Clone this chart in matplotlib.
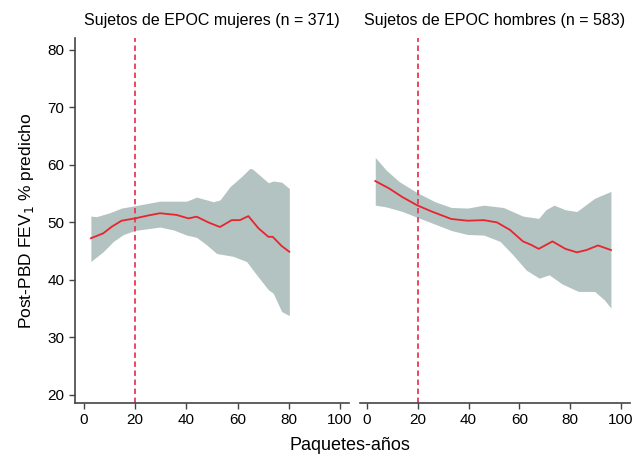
import matplotlib
matplotlib.use("Agg")
import matplotlib.pyplot as plt
import numpy as np

plt.rcParams['font.family'] = ['Liberation Sans', 'DejaVu Sans']

# Women panel
w_x_line = [2.7, 7.5, 11.0, 14.7, 19.9, 25.0, 29.7, 36.2, 40.8, 44.0, 48.6, 53.1, 57.7, 60.9, 64.2, 68.1, 72.0, 73.7, 77.2, 80.2]
w_y_line = [47.25, 48.1, 49.3, 50.3, 50.7, 51.2, 51.6, 51.3, 50.7, 51.0, 50.0, 49.2, 50.4, 50.4, 51.1, 49.0, 47.5, 47.5, 45.9, 44.9]
w_x_up = [2.7, 4.9, 10.2, 14.7, 19.9, 29.7, 40.1, 44.0, 50.5, 53.1, 57.0, 61.6, 64.8, 65.8, 72.0, 73.9, 77.2, 80.2]
w_y_up = [51.1, 51.0, 51.7, 52.5, 52.9, 53.7, 53.7, 54.4, 53.6, 53.9, 56.2, 58.0, 59.4, 59.3, 56.9, 57.2, 57.0, 55.9]
w_x_lo = [2.7, 7.5, 11.5, 15.4, 19.9, 29.7, 34.9, 40.1, 44.0, 47.9, 51.8, 55.7, 58.3, 63.5, 67.4, 72.0, 73.9, 77.2, 80.2]
w_y_lo = [43.2, 44.9, 46.7, 47.9, 48.6, 49.2, 48.7, 47.8, 47.4, 46.1, 44.6, 44.3, 44.1, 43.2, 40.9, 38.3, 37.7, 34.5, 33.8]

# Men panel
m_x_line = [3.3, 8.8, 14.0, 19.7, 25.5, 33.2, 39.6, 46.0, 51.2, 56.3, 61.4, 64.6, 67.6, 73.0, 78.1, 82.6, 86.4, 90.9, 96.0]
m_y_line = [57.2, 55.9, 54.4, 53.0, 51.9, 50.6, 50.3, 50.4, 50.0, 48.7, 46.7, 46.1, 45.4, 46.7, 45.4, 44.8, 45.2, 46.0, 45.2]
m_x_up = [3.3, 7.6, 12.7, 19.7, 26.8, 33.2, 39.6, 46.0, 53.7, 61.4, 67.6, 70.4, 73.6, 78.1, 82.6, 89.6, 96.0]
m_y_up = [61.3, 59.1, 57.1, 55.2, 53.6, 52.6, 52.5, 53.0, 52.6, 51.1, 50.7, 52.2, 53.0, 52.2, 51.9, 54.2, 55.4]
m_x_lo = [3.3, 7.6, 14.0, 19.7, 26.8, 33.2, 39.6, 46.0, 52.4, 57.6, 62.7, 67.8, 71.7, 76.8, 83.2, 89.6, 93.5, 96.0]
m_y_lo = [53.0, 52.7, 51.9, 50.9, 49.7, 48.6, 47.9, 47.8, 46.7, 44.3, 41.7, 40.3, 40.9, 39.3, 38.0, 38.0, 36.5, 35.1]

titles = ["Sujetos de EPOC mujeres (n = 371)", "Sujetos de EPOC hombres (n = 583)"]
x_ticks = [0, 20, 40, 60, 80, 100]
y_ticks = [20, 30, 40, 50, 60, 70, 80]
cutoff = 20

band_color = '#b3c3c1'
line_color = '#e8242e'
vline_color = '#e83a55'

fig = plt.figure(figsize=(6.37, 4.55), dpi=100)
axL = fig.add_axes([75/637, 1-403/455, (349-75)/637, (403-38.4)/455])
axR = fig.add_axes([360/637, 1-403/455, (630-360)/637, (403-38.4)/455])

panels = [
    (axL, w_x_line, w_y_line, w_x_up, w_y_up, w_x_lo, w_y_lo, (-3.5, 103.5)),
    (axR, m_x_line, m_y_line, m_x_up, m_y_up, m_x_lo, m_y_lo, (-2.7, 103.5)),
]

for i, (ax, xl, yl, xu, yu, xlo, ylo, xlim) in enumerate(panels):
    xs = np.linspace(max(xu[0], xlo[0]), min(xu[-1], xlo[-1]), 300)
    up = np.interp(xs, xu, yu)
    lo = np.interp(xs, xlo, ylo)
    ax.fill_between(xs, lo, up, color=band_color, linewidth=0, zorder=1)
    ax.plot(xl, yl, color=line_color, linewidth=1.3, zorder=3)
    ax.axvline(cutoff, color=vline_color, linestyle=(0, (3, 2)), linewidth=1.3, zorder=2)
    ax.set_xlim(*xlim)
    ax.set_ylim(18.6, 82)
    ax.set_xticks(x_ticks)
    ax.set_yticks(y_ticks)
    ax.spines['top'].set_visible(False)
    ax.spines['right'].set_visible(False)
    ax.spines['bottom'].set_color('#444444')
    ax.spines['left'].set_color('#444444')
    ax.spines['bottom'].set_linewidth(1.2)
    ax.spines['left'].set_linewidth(1.2)
    ax.tick_params(axis='both', labelsize=11, color='#444444', length=4, width=1.0, direction='out')
    ax.set_title(titles[i], fontsize=11.5, pad=10)
    if i == 1:
        ax.spines['left'].set_visible(False)
        ax.tick_params(axis='y', left=False, labelleft=False)

axL.set_ylabel('Post-PBD FEV$_1$ % predicho', fontsize=12.5, labelpad=8)
fig.text(350/637, 1-445/455, 'Paquetes-años', ha='center', va='center', fontsize=13)

fig.savefig('out.png', dpi=100)
